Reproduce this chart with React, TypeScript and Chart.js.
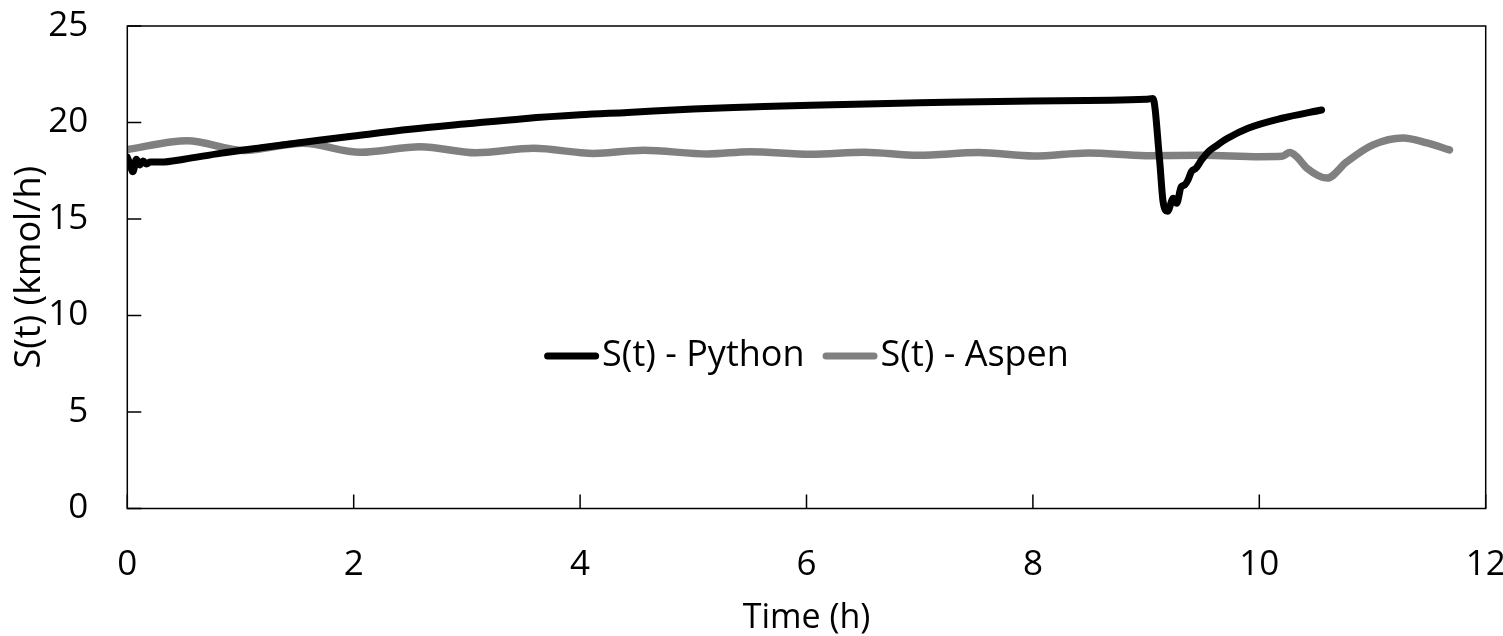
import React, { useEffect, useRef } from "react";
import { Chart, registerables } from "chart.js";

Chart.register(...registerables);

const pythonTime = [0, 0.02, 0.05, 0.08, 0.11, 0.14, 0.17, 0.2, 0.3, 0.5, 0.82, 1.2, 1.71, 2.0, 2.5, 3.0, 3.5, 4.0, 4.42, 5.0, 5.5, 6.04, 7.0, 8.0, 9.0, 9.06, 9.12, 9.15, 9.19, 9.24, 9.27, 9.31, 9.34, 9.37, 9.4, 9.44, 9.49, 9.55, 9.61, 9.72, 9.9, 10.2, 10.55];
const pythonS = [18.2, 17.9, 17.45, 18.1, 17.8, 18.0, 17.85, 17.95, 17.95, 18.1, 18.4, 18.7, 19.09, 19.3, 19.65, 19.93, 20.2, 20.4, 20.52, 20.7, 20.8, 20.9, 21.02, 21.12, 21.2, 21.25, 18.0, 15.9, 15.4, 16.07, 15.81, 16.67, 16.76, 17.02, 17.45, 17.63, 18.06, 18.49, 18.75, 19.18, 19.7, 20.22, 20.65];

const aspenTime = [0, 0.53, 1.03, 1.55, 2.06, 2.59, 3.08, 3.59, 4.12, 4.56, 5.13, 5.5, 6.04, 6.51, 6.99, 7.52, 8.01, 8.49, 9.0, 9.5, 10.0, 10.2, 10.27, 10.33, 10.42, 10.6, 10.77, 11.0, 11.27, 11.48, 11.68];
const aspenS = [18.6, 19.06, 18.55, 18.92, 18.46, 18.75, 18.43, 18.66, 18.4, 18.56, 18.37, 18.49, 18.35, 18.46, 18.3, 18.44, 18.26, 18.42, 18.28, 18.3, 18.23, 18.25, 18.44, 18.23, 17.64, 17.12, 17.95, 18.83, 19.2, 18.94, 18.58];

const seriesLabels = ["S(t) - Python", "S(t) - Aspen"];
const xTicks = [0, 2, 4, 6, 8, 10, 12];
const yTicks = [0, 5, 10, 15, 20, 25];

const FONT = "'Open Sans', 'Noto Sans', sans-serif";

const framePlugin = {
  id: "frameTicks",
  afterDraw(chart: any) {
    const { ctx, chartArea } = chart;
    const { left, right, top, bottom } = chartArea;
    const xs = chart.scales.x;
    const ys = chart.scales.y;
    ctx.save();
    ctx.strokeStyle = "#000";
    ctx.lineWidth = 1.5;
    ctx.strokeRect(left, top, right - left, bottom - top);
    ctx.beginPath();
    for (const v of yTicks) {
      const y = ys.getPixelForValue(v);
      ctx.moveTo(left, y);
      ctx.lineTo(left + 14, y);
    }
    for (const v of xTicks) {
      const x = xs.getPixelForValue(v);
      ctx.moveTo(x, bottom);
      ctx.lineTo(x, bottom - 14);
    }
    ctx.stroke();

    // legend
    const fontSize = 36;
    ctx.font = `${fontSize}px ${FONT}`;
    ctx.textBaseline = "middle";
    ctx.textAlign = "left";
    const lineLen = 55;
    const gap = 3;
    const itemGap = 18;
    const ds = chart.data.datasets;
    const widths = ds.map((d: any) => ctx.measureText(d.label).width);
    let total = 0;
    widths.forEach((w: number, i: number) => {
      total += lineLen + gap + w + (i < widths.length - 1 ? itemGap : 0);
    });
    let x = (left + right) / 2 - total / 2;
    const ly = 356;
    ds.forEach((d: any, i: number) => {
      ctx.beginPath();
      ctx.strokeStyle = d.borderColor;
      ctx.lineWidth = 7;
      ctx.lineCap = "round";
      ctx.moveTo(x + 3.5, ly);
      ctx.lineTo(x + lineLen - 3.5, ly);
      ctx.stroke();
      x += lineLen + gap;
      ctx.fillStyle = "#000";
      ctx.fillText(d.label, x, ly);
      x += widths[i] + itemGap;
    });
    ctx.restore();
  },
};

export default function App() {
  const ref = useRef<HTMLCanvasElement>(null);
  useEffect(() => {
    const canvas = ref.current!;
    const chart = new Chart(canvas, {
      type: "line",
      data: {
        datasets: [
          {
            label: seriesLabels[0],
            data: pythonTime.map((t, i) => ({ x: t, y: pythonS[i] })),
            borderColor: "#000000",
            backgroundColor: "#000000",
            borderWidth: 7,
            pointRadius: 0,
            cubicInterpolationMode: "monotone",
            borderCapStyle: "round",
            borderJoinStyle: "round",
          },
          {
            label: seriesLabels[1],
            data: aspenTime.map((t, i) => ({ x: t, y: aspenS[i] })),
            borderColor: "#808080",
            backgroundColor: "#808080",
            borderWidth: 7.5,
            pointRadius: 0,
            cubicInterpolationMode: "monotone",
            borderCapStyle: "round",
            borderJoinStyle: "round",
          },
        ],
      },
      options: {
        responsive: false,
        animation: false,
        layout: { padding: { left: 0, top: 26, right: 17.3, bottom: 0 } },
        plugins: {
          legend: { display: false },
          tooltip: { enabled: false },
        },
        scales: {
          x: {
            type: "linear",
            min: 0,
            max: 12,
            grid: { display: false },
            border: { display: false },
            ticks: {
              stepSize: 2,
              padding: 28,
              color: "#000",
              font: { family: FONT, size: 35 },
              maxRotation: 0,
            },
            title: {
              display: true,
              text: "Time (h)",
              color: "#000",
              font: { family: FONT, size: 34, lineHeight: 1.05 },
              padding: { top: 0, bottom: 0 },
            },
            afterFit: (s: any) => {
              s.height = 127.5;
              s.paddingLeft = 0;
              s.paddingRight = 0;
            },
          },
          y: {
            min: 0,
            max: 25,
            grid: { display: false },
            border: { display: false },
            ticks: {
              stepSize: 5,
              padding: 31,
              color: "#000",
              font: { family: FONT, size: 35 },
            },
            title: {
              display: true,
              text: "S(t) (kmol/h)",
              color: "#000",
              font: { family: FONT, size: 36 },
              padding: { top: 8, bottom: 0 },
            },
            afterFit: (s: any) => {
              s.width = 127.3;
              s.paddingTop = 0;
              s.paddingBottom = 0;
            },
          },
        },
      },
      plugins: [framePlugin],
    } as any);
    return () => chart.destroy();
  }, []);
  return (
    <div style={{ position: "absolute", left: 0, top: 0, width: 1503, height: 636, background: "#fff" }}>
      <canvas ref={ref} width={1503} height={636} />
    </div>
  );
}
